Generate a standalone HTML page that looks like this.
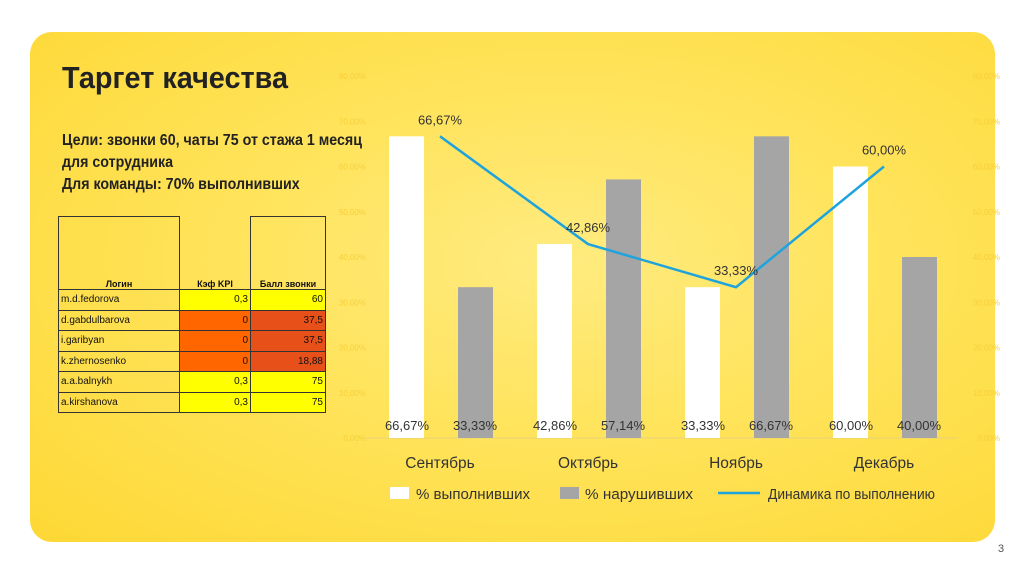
<!DOCTYPE html>
<html><head><meta charset="utf-8"><style>
body{margin:0;width:1024px;height:574px;background:#fff;font-family:"Liberation Sans","DejaVu Sans",sans-serif;position:relative;overflow:hidden}
#panel{position:absolute;left:30px;top:32px;width:965px;height:510px;border-radius:22px;background:radial-gradient(ellipse at 55% 45%,#ffeb80 0%,#ffe35a 45%,#fdd835 100%)}
.t{position:absolute;color:#222}
table{position:absolute;left:58px;top:216px;border-collapse:collapse;font-size:10px}
td{border:1px solid #333;height:19.5px;padding:0 2px;color:#111}
.y{background:#ffff00}.o{background:#ff6600}.r{background:#e8501a}
</style></head><body>
<div id="panel"></div>
<div class="t" style="left:62px;top:60px;font-size:31px;font-weight:bold;transform:scaleX(0.93);transform-origin:left">Таргет качества</div>
<div class="t" style="left:62px;top:130px;font-size:16px;line-height:22px;font-weight:bold;transform:scaleX(0.89);transform-origin:left">Цели: звонки 60, чаты 75 от стажа 1 месяц<br>для сотрудника<br>Для команды: 70% выполнивших</div>
<table>
<tr style="height:73px"><td style="width:116px;text-align:center;vertical-align:bottom;font-weight:bold;font-size:9px">Логин</td><td style="width:66px;text-align:center;vertical-align:bottom;font-weight:bold;font-size:9px;border-top:none">Кэф KPI</td><td style="width:70px;text-align:center;vertical-align:bottom;font-weight:bold;font-size:9px">Балл звонки</td></tr>
<tr><td>m.d.fedorova</td><td class="y" align="right">0,3</td><td class="y" align="right">60</td></tr>
<tr><td>d.gabdulbarova</td><td class="o" align="right">0</td><td class="r" align="right">37,5</td></tr>
<tr><td>i.garibyan</td><td class="o" align="right">0</td><td class="r" align="right">37,5</td></tr>
<tr><td>k.zhernosenko</td><td class="o" align="right">0</td><td class="r" align="right">18,88</td></tr>
<tr><td>a.a.balnykh</td><td class="y" align="right">0,3</td><td class="y" align="right">75</td></tr>
<tr><td>a.kirshanova</td><td class="y" align="right">0,3</td><td class="y" align="right">75</td></tr>
</table>
<div class="t" style="left:998px;top:543px;font-size:11px;color:#555">3</div>
<svg id="chart" width="1024" height="574" style="position:absolute;left:0;top:0"></svg>
<script>
const categories=["Сентябрь","Октябрь","Ноябрь","Декабрь"];
const done=[66.67,42.86,33.33,60.00];
const viol=[33.33,57.14,66.67,40.00];
const trend=[66.67,42.86,33.33,60.00];
const ticks=[0,10,20,30,40,50,60,70,80];
const NS="http://www.w3.org/2000/svg",svg=document.getElementById('chart');
const x0=366,cw=148,base=438,k=4.525;
const y=v=>base-v*k, cx=i=>x0+cw*i+cw/2;
const fmt=v=>v.toFixed(2).replace('.',',')+'%';
function el(t,a,txt){const e=document.createElementNS(NS,t);for(const q in a)e.setAttribute(q,a[q]);if(txt!=null)e.textContent=txt;svg.appendChild(e);return e;}
ticks.forEach(t=>{
 let e=el('text',{x:1000,y:y(t)+3,'text-anchor':'end','font-size':8,fill:'#f7cf3a'},fmt(t));
 
 e=el('text',{x:366,y:y(t)+3,'text-anchor':'end','font-size':8,fill:'#f7cf3a'},fmt(t));
 
});
let ax=el('line',{x1:x0,x2:x0+cw*4,y1:base,y2:base,stroke:'#e8d27a','stroke-width':1});

categories.forEach((c,i)=>{
 let b=el('rect',{x:cx(i)-51,y:y(done[i]),width:35,height:done[i]*k,fill:'#fff'});
 
 b=el('rect',{x:cx(i)+18,y:y(viol[i]),width:35,height:viol[i]*k,fill:'#a5a5a5'});
 
 let l=el('text',{x:cx(i)-33,y:430,'text-anchor':'middle','font-size':13,fill:'#333'},fmt(done[i]));
 
 l=el('text',{x:cx(i)+35,y:430,'text-anchor':'middle','font-size':13,fill:'#333'},fmt(viol[i]));
 
 l=el('text',{x:cx(i),y:468,'text-anchor':'middle','font-size':15.5,fill:'#333'},c);
 
});
let pl=el('polyline',{points:trend.map((v,i)=>cx(i)+','+y(v)).join(' '),fill:'none',stroke:'#1fa3dc','stroke-width':2.5});

trend.forEach((v,i)=>{
 let l=el('text',{x:cx(i),y:y(v)-12,'text-anchor':'middle','font-size':13,fill:'#333'},fmt(v));
 
});
const leg=[['rect','#fff','% выполнивших',390,416,114],['rect','#a5a5a5','% нарушивших',560,585,108],['line','#1fa3dc','Динамика по выполнению',718,768,167]];
leg.forEach(g=>{
 let m;
 if(g[0]=='rect')m=el('rect',{x:g[3],y:487,width:19,height:12,fill:g[1]});
 else m=el('line',{x1:g[3],x2:g[3]+42,y1:493,y2:493,stroke:g[1],'stroke-width':2.5});
 
 let t=el('text',{x:g[4],y:499,'font-size':15,fill:'#333',textLength:g[5],lengthAdjust:'spacingAndGlyphs'},g[2]);
 
});
</script>
</body></html>
